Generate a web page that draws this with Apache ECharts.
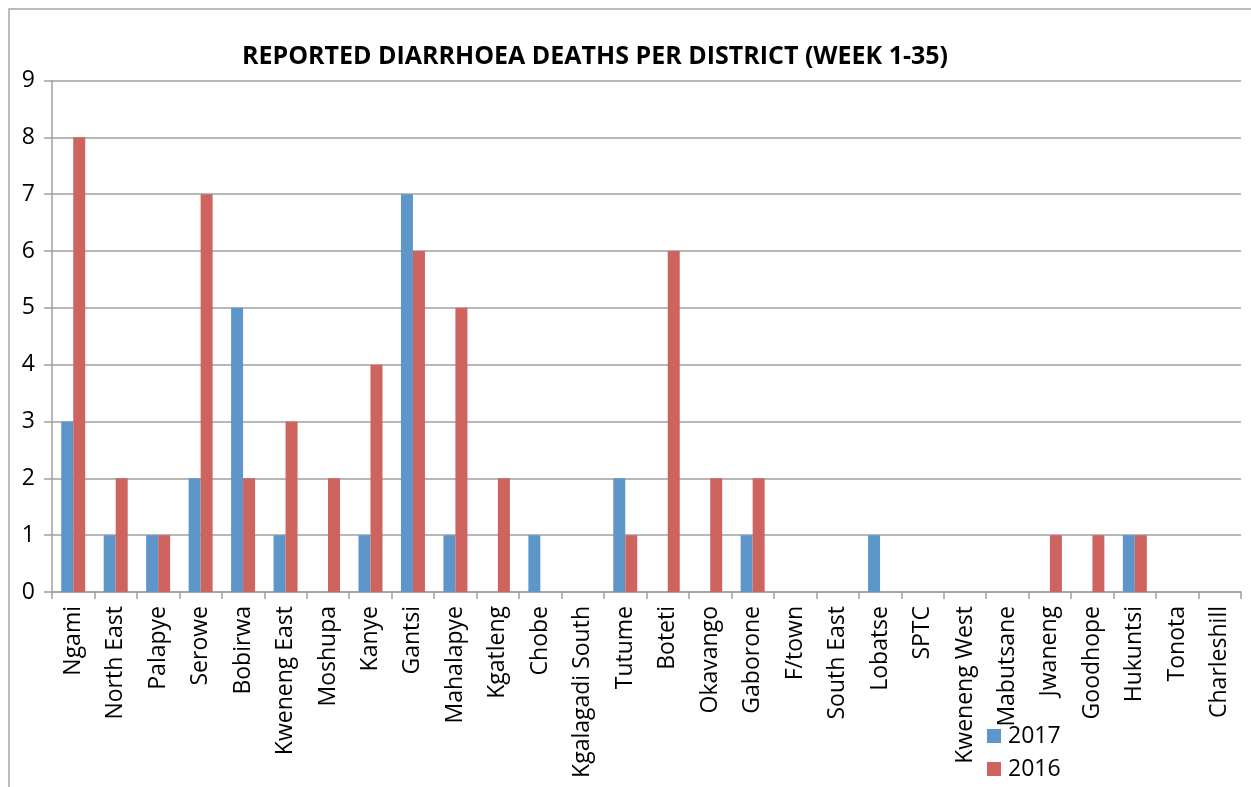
<!DOCTYPE html>
<html>
<head>
<meta charset="utf-8">
<script src="https://cdn.jsdelivr.net/npm/echarts@6/dist/echarts.min.js"></script>
<style>
  html, body { margin: 0; padding: 0; background: #fff; }
  #chart { width: 1251px; height: 787px; }
</style>
</head>
<body>
<div id="chart"></div>
<script>
// districts on the x axis
var districts = ['Ngami', 'North East', 'Palapye', 'Serowe', 'Bobirwa', 'Kweneng East', 'Moshupa',
  'Kanye', 'Gantsi', 'Mahalapye', 'Kgatleng', 'Chobe', 'Kgalagadi South', 'Tutume', 'Boteti',
  'Okavango', 'Gaborone', 'F/town', 'South East', 'Lobatse', 'SPTC', 'Kweneng West', 'Mabutsane',
  'Jwaneng', 'Goodhope', 'Hukuntsi', 'Tonota', 'Charleshill'];
var deaths2017 = [3, 1, 1, 2, 5, 1, 0, 1, 7, 1, 0, 1, 0, 2, 0, 0, 1, 0, 0, 1, 0, 0, 0, 0, 0, 1, 0, 0];
var deaths2016 = [8, 2, 1, 7, 2, 3, 2, 4, 6, 5, 2, 0, 0, 1, 6, 2, 2, 0, 0, 0, 0, 0, 0, 1, 1, 1, 0, 0];
var seriesNames = ['2017', '2016'];

var myChart = echarts.init(document.getElementById('chart'));
var font = 'Open Sans';
var option = {
  animation: false,
  title: {
    text: 'REPORTED DIARRHOEA DEATHS PER DISTRICT (WEEK 1-35)',
    left: 590,
    textAlign: 'center',
    top: 39,
    textStyle: { fontFamily: font, fontWeight: 'bold', fontSize: 25, color: '#000' }
  },
  graphic: [{
    type: 'rect',
    shape: { x: 9, y: 9, width: 1300, height: 900 },
    style: { fill: 'none', stroke: '#a6a6a6', lineWidth: 1.5 },
    silent: true
  }],
  legend: {
    data: seriesNames,
    orient: 'vertical',
    left: 987,
    top: 722,
    padding: 0,
    itemWidth: 14,
    itemHeight: 14,
    itemGap: 5,
    textStyle: { fontFamily: font, fontSize: 23, lineHeight: 28, color: '#000', padding: [0, 0, 0, 2] },
    icon: 'rect'
  },
  grid: {
    left: 52,
    right: 10,
    top: 80.5,
    bottom: 195,
    containLabel: false
  },
  xAxis: {
    type: 'category',
    data: districts,
    axisLine: { lineStyle: { color: '#a0a0a0', width: 1.5 } },
    axisTick: { show: true, length: 7, lineStyle: { color: '#a0a0a0', width: 1.5 } },
    axisLabel: {
      rotate: 90,
      interval: 0,
      margin: 14,
      fontFamily: font,
      fontSize: 23,
      color: '#000'
    }
  },
  yAxis: {
    type: 'value',
    min: 0,
    max: 9,
    interval: 1,
    axisLine: { show: true, lineStyle: { color: '#a0a0a0', width: 1.5 } },
    axisTick: { show: true, length: 8, lineStyle: { color: '#a0a0a0', width: 1.5 } },
    axisLabel: { fontFamily: font, fontSize: 23, color: '#000', margin: 17 },
    splitLine: { show: true, lineStyle: { color: '#a0a0a0', width: 1.5 } }
  },
  series: [
    {
      name: seriesNames[0],
      type: 'bar',
      data: deaths2017,
      barWidth: 12,
      barGap: '0%',
      itemStyle: { color: '#5f96ca' }
    },
    {
      name: seriesNames[1],
      type: 'bar',
      data: deaths2016,
      barWidth: 12,
      itemStyle: { color: '#cd6460' }
    }
  ]
};
option && myChart.setOption(option);
</script>
</body>
</html>
